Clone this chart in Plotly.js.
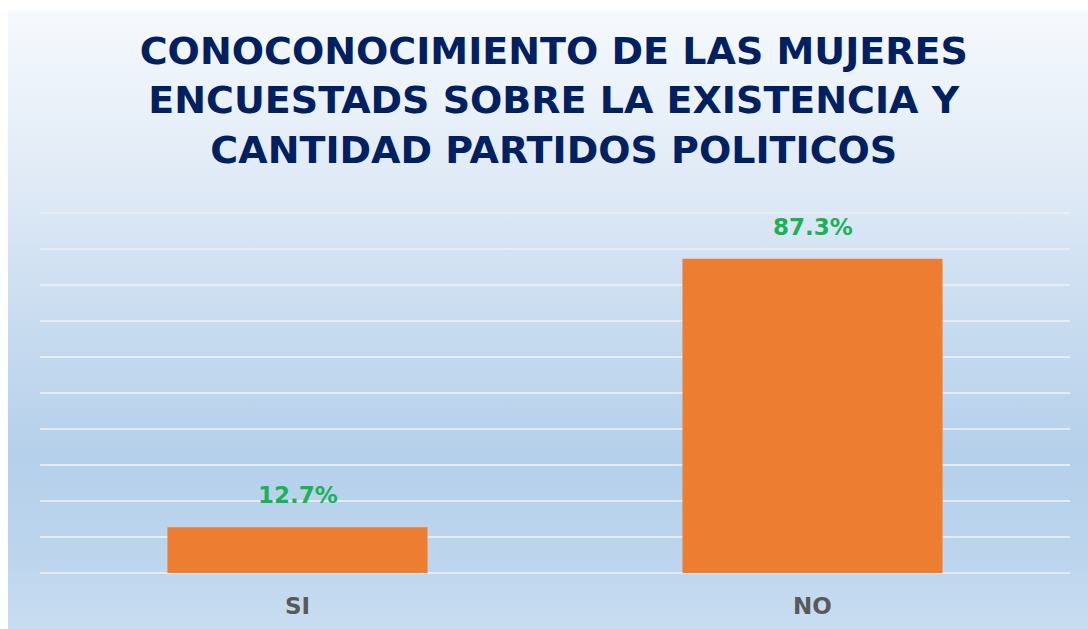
<!DOCTYPE html>
<html>
<head>
<meta charset="utf-8">
<script src="https://cdn.plot.ly/plotly-3.0.1.min.js"></script>
<style>
  html, body { margin: 0; padding: 0; background: #ffffff; width: 1088px; height: 629px; overflow: hidden; }
  #bg { position: absolute; left: 8px; top: 10px; width: 1080px; height: 619px;
        background: linear-gradient(to bottom, #f6f9fd 0%, #e2ecf7 25%, #c9dcf0 50%, #b5d0eb 72%, #bcd5ed 88%, #c9ddf1 100%); }
  #chart { position: absolute; left: 0; top: 0; width: 1088px; height: 629px; }
</style>
</head>
<body>
<div id="bg"></div>
<div id="chart"></div>
<script>
const categories = ["SI", "NO"];
const values = [12.7, 87.3];
const labels = ["12.7%", "87.3%"];
const titleText = "CONOCONOCIMIENTO DE LAS MUJERES<br>ENCUESTADS SOBRE LA EXISTENCIA Y<br>CANTIDAD PARTIDOS POLITICOS";

const trace = {
  type: "bar",
  x: categories,
  y: values,
  marker: { color: "#ED7D31", line: { width: 0 } },
  hoverinfo: "none"
};

const annotations = categories.map((c, i) => ({
  x: c, y: values[i], xref: "x", yref: "y",
  text: labels[i], showarrow: false,
  yanchor: "bottom", yshift: 17,
  font: { family: "DejaVu Sans", size: 23, color: "#1DB157", weight: "bold" }
}));

const layout = {
  width: 1088, height: 629,
  paper_bgcolor: "rgba(0,0,0,0)",
  plot_bgcolor: "rgba(0,0,0,0)",
  margin: { l: 40, r: 18, t: 211, b: 56 },
  bargap: 0.495,
  showlegend: false,
  title: {
    text: titleText,
    font: { family: "DejaVu Sans", size: 38, color: "#002060", weight: "bold" },
    x: 0.509, xanchor: "center",
    y: 1 - 64 / 629, yanchor: "top", yref: "container"
  },
  xaxis: {
    type: "category",
    showgrid: false, zeroline: false, showline: false, ticks: "",
    ticklabelstandoff: 17,
    tickfont: { family: "DejaVu Sans", size: 23, color: "#595959", weight: "bold" }
  },
  yaxis: {
    range: [0, 100.55], dtick: 10, tick0: 0,
    showticklabels: false, ticks: "",
    showgrid: true, gridcolor: "rgba(235,238,242,0.85)", gridwidth: 1.5,
    zeroline: true, zerolinecolor: "rgba(235,238,242,0.85)", zerolinewidth: 1.5,
    showline: false
  },
  annotations: annotations
};

Plotly.newPlot("chart", [trace], layout, { displayModeBar: false, staticPlot: true });
</script>
</body>
</html>
